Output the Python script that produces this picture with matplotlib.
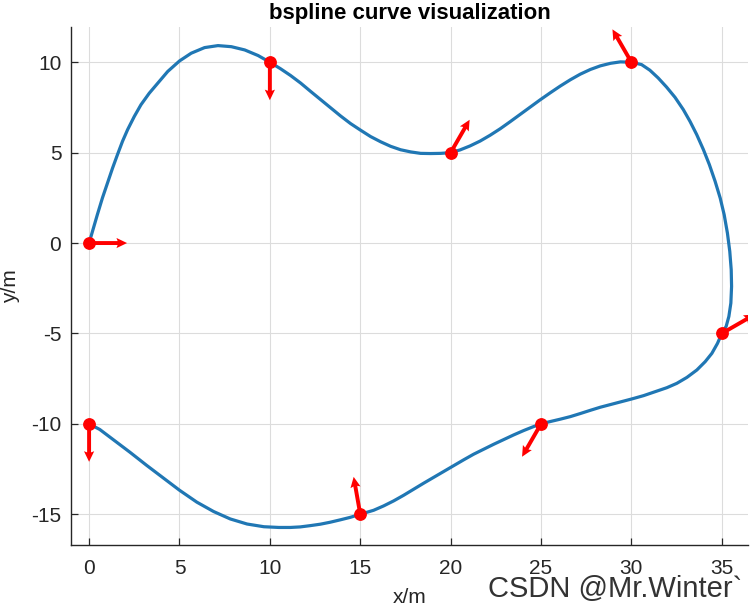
import numpy as np
import matplotlib
matplotlib.use("Agg")
import matplotlib.pyplot as plt

# Waypoints (x, y) and their headings in degrees
way_x = [0, 10, 20, 30, 35, 25, 15, 0]
way_y = [0, 10, 5, 10, -5, -10, -15, -10]
way_heading = [0, -90, 60, 120, 30, -120, 100, -90]
arrow_len = 2.1

# B-spline curve
curve_x = [0, 0.19, 0.46, 0.74, 1.02, 1.30, 1.57, 1.85, 2.13, 2.50, 2.87,
           3.33, 3.80, 4.35, 5.0, 5.65, 6.39, 7.13, 7.87, 8.61, 9.35, 10,
           10.59, 11.14, 11.70, 12.25, 12.80, 13.36, 13.91, 14.46, 15.02,
           15.57, 16.13, 16.68, 17.23, 17.79, 18.34, 18.89, 19.45, 20,
           20.52, 21.07, 21.63, 22.18, 22.74, 23.29, 23.84, 24.40, 24.95,
           25.51, 26.06, 26.62, 27.17, 27.73, 28.28, 28.84, 29.39, 30,
           30.56, 31.02, 31.48, 31.94, 32.41, 32.87, 33.24, 33.61, 33.98,
           34.31, 34.63, 34.91, 35.13, 35.31, 35.44, 35.52, 35.54, 35.50,
           35.39, 35.24, 35, 34.76, 34.45, 34.08, 33.62, 33.07, 32.51, 31.96,
           31.22, 30.67, 30.03, 29.38, 28.83, 28.28, 27.73, 27.17, 26.62,
           26.07, 25.52, 25, 24.59, 24.04, 23.49, 22.93, 22.38, 21.83, 21.27,
           20.72, 20.17, 19.61, 19.06, 18.51, 17.95, 17.40, 16.85, 16.29,
           15.74, 15, 14.45, 13.89, 13.34, 12.79, 12.23, 11.68, 11.13, 10.5,
           9.67, 8.74, 7.81, 6.89, 5.96, 5.0, 4.11, 3.19, 2.26, 1.33, 0.59, 0]
curve_y = [0, 0.66, 1.58, 2.50, 3.33, 4.15, 4.89, 5.63, 6.27, 7.00, 7.65,
           8.29, 8.84, 9.49, 10.07, 10.50, 10.81, 10.92, 10.86, 10.68, 10.37,
           10, 9.64, 9.27, 8.85, 8.39, 7.94, 7.48, 7.03, 6.61, 6.24, 5.89,
           5.60, 5.35, 5.16, 5.04, 4.96, 4.95, 4.96, 5.0, 5.15, 5.37, 5.64,
           5.96, 6.32, 6.71, 7.11, 7.52, 7.92, 8.31, 8.68, 9.03, 9.34, 9.60,
           9.80, 9.94, 10.02, 10, 9.87, 9.56, 9.13, 8.63, 8.06, 7.38, 6.73,
           6.00, 5.17, 4.34, 3.41, 2.49, 1.57, 0.55, -0.46, -1.48, -2.40,
           -3.32, -4.06, -4.61, -5, -5.55, -6.10, -6.56, -7.02, -7.43, -7.76,
           -8.00, -8.25, -8.44, -8.62, -8.79, -8.93, -9.08, -9.25, -9.43,
           -9.60, -9.74, -9.87, -10, -10.15, -10.37, -10.61, -10.87, -11.13,
           -11.40, -11.68, -11.99, -12.31, -12.64, -12.95, -13.28, -13.62,
           -13.95, -14.26, -14.54, -14.78, -15, -15.17, -15.31, -15.44,
           -15.55, -15.63, -15.70, -15.73, -15.73, -15.69, -15.54, -15.26,
           -14.85, -14.33, -13.67, -13.00, -12.30, -11.57, -10.87, -10.31,
           -10]

x_ticks = [0, 5, 10, 15, 20, 25, 30, 35]
y_ticks = [-15, -10, -5, 0, 5, 10]

plt.rcParams["font.family"] = ["Liberation Sans", "DejaVu Sans"]
plt.rcParams["axes.unicode_minus"] = False

fig = plt.figure(figsize=(7.53, 6.09), dpi=100)
ax = fig.add_axes([0.0943, 0.1051, 0.8991, 0.8506])

ax.plot(curve_x, curve_y, color="#2077b4", linewidth=2.3, zorder=2,
        solid_joinstyle="round")

heading = np.deg2rad(way_heading)
u = arrow_len * np.cos(heading)
v = arrow_len * np.sin(heading)
ax.quiver(way_x, way_y, u, v, color="red", angles="xy", scale_units="xy",
          scale=1, width=0.0058, headwidth=2.6, headlength=2.7,
          headaxislength=2.4, zorder=3)
ax.plot(way_x, way_y, "o", color="red", markersize=8.2, zorder=4)

ax.set_xlim(-1.0, 36.45)
ax.set_ylim(-16.7, 11.95)
ax.set_xticks(x_ticks)
ax.set_yticks(y_ticks)
ax.grid(True, color="#dcdcdc", linewidth=0.8)
ax.set_axisbelow(True)
for side in ["top", "right"]:
    ax.spines[side].set_visible(False)
for side in ["left", "bottom"]:
    ax.spines[side].set_color("#262626")
    ax.spines[side].set_linewidth(1.0)
ax.tick_params(direction="in", length=5, width=0.9, colors="#262626",
               labelsize=15)
ax.tick_params(axis="x", pad=10)
ax.tick_params(axis="y", pad=7)

ax.set_title("bspline curve visualization", fontsize=16, fontweight="bold",
             pad=6)
ax.set_xlabel("x/m", fontsize=15, color="#262626")
ax.set_ylabel("y/m", fontsize=15, color="#262626")
ax.xaxis.set_label_coords(0.5, -0.083)
ax.yaxis.set_label_coords(-0.075, 0.5)

fig.text(488 / 753, 1 - 597 / 609, "CSDN @Mr.Winter`", fontsize=21,
         color="#333333", va="baseline", ha="left")

fig.savefig("out.png", dpi=100)
